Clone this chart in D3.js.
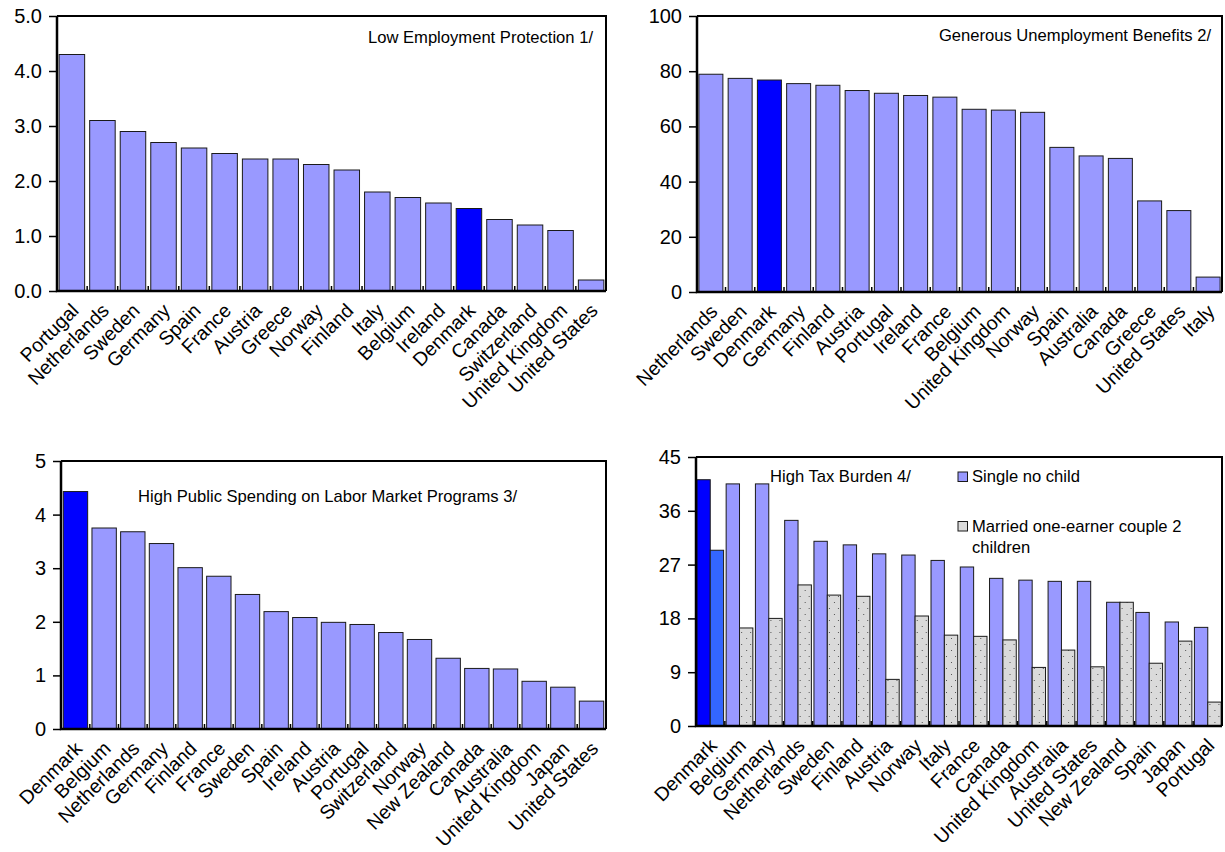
<!DOCTYPE html>
<html>
<head>
<meta charset="utf-8">
<script src="https://cdn.jsdelivr.net/npm/d3@7"></script>
<style>
  body { margin: 0; background: #fff; }
  svg { display: block; font-family: Arial, "Liberation Sans", sans-serif; }
</style>
</head>
<body>
<svg id="chart" width="1225" height="852"></svg>
<script>
// ---- Employment protection (index) ----
const empCountries = ["Portugal","Netherlands","Sweden","Germany","Spain","France","Austria","Greece","Norway","Finland","Italy","Belgium","Ireland","Denmark","Canada","Switzerland","United Kingdom","United States"];
const empValues = [4.3,3.1,2.9,2.7,2.6,2.5,2.4,2.4,2.3,2.2,1.8,1.7,1.6,1.5,1.3,1.2,1.1,0.2];
const empTicks = [0,1,2,3,4,5];

// ---- Unemployment benefit replacement rates ----
const benCountries = ["Netherlands","Sweden","Denmark","Germany","Finland","Austria","Portugal","Ireland","France","Belgium","United Kingdom","Norway","Spain","Australia","Canada","Greece","United States","Italy"];
const benValues = [78.9,77.4,76.8,75.5,74.9,73.0,72.0,71.2,70.6,66.2,65.9,65.1,52.4,49.3,48.4,33.0,29.5,5.4];
const benTicks = [0,20,40,60,80,100];

// ---- Public spending on labor market programs ----
const spendCountries = ["Denmark","Belgium","Netherlands","Germany","Finland","France","Sweden","Spain","Ireland","Austria","Portugal","Switzerland","Norway","New Zealand","Canada","Australia","United Kingdom","Japan","United States"];
const spendValues = [4.43,3.75,3.68,3.46,3.01,2.85,2.51,2.19,2.08,1.99,1.95,1.80,1.67,1.32,1.13,1.12,0.89,0.78,0.52];
const spendTicks = [0,1,2,3,4,5];

// ---- Tax burden ----
const taxCountries = ["Denmark","Belgium","Germany","Netherlands","Sweden","Finland","Austria","Norway","Italy","France","Canada","United Kingdom","Australia","United States","New Zealand","Spain","Japan","Portugal"];
const taxSingle = [41.2,40.5,40.5,34.4,30.9,30.3,28.8,28.6,27.7,26.6,24.7,24.4,24.2,24.2,20.7,19.0,17.4,16.5];
const taxMarried = [29.4,16.4,18.0,23.6,21.9,21.7,7.8,18.4,15.2,15.0,14.4,9.8,12.7,9.9,20.7,10.5,14.2,4.0];
const taxTicks = [0,9,18,27,36,45];
const taxSeries = ["Single no child","Married one-earner couple 2 children"];

const highlight = "Denmark";
const C_BAR = "#9999ff", C_HI = "#0000ff", C_HI2 = "#3366ff";

const svg = d3.select("#chart");
const defs = svg.append("defs");
const pat = defs.append("pattern").attr("id", "dots")
  .attr("patternUnits", "userSpaceOnUse").attr("width", 9).attr("height", 12);
pat.append("rect").attr("width", 9).attr("height", 12).attr("fill", "#dadada");
pat.append("rect").attr("x", 2).attr("y", 2).attr("width", 1).attr("height", 1).attr("fill", "#555");
pat.append("rect").attr("x", 6).attr("y", 8).attr("width", 1).attr("height", 1).attr("fill", "#555");

const TICK_FONT = 20, CAT_FONT = 19.5, TITLE_FONT = 16.6;

function frame(g, box, y, ticks, fmt, x, cats) {
  // y axis with outward ticks
  const ax = g.append("g").attr("transform", `translate(${box.left},0)`)
    .call(d3.axisLeft(y).tickValues(ticks).tickFormat(fmt).tickSize(8).tickPadding(7));
  ax.select(".domain").remove();
  ax.selectAll(".tick line").attr("stroke", "#000").attr("stroke-width", 1.5);
  ax.selectAll(".tick text").attr("font-size", TICK_FONT).attr("fill", "#000")
    .attr("font-family", "Arial, 'Liberation Sans', sans-serif");

  // top and right border
  g.append("path")
    .attr("d", `M${box.left},${box.top}H${box.right}V${box.bottom}`)
    .attr("fill", "none").attr("stroke", "#000").attr("stroke-width", 2);
  // left and bottom axis lines
  g.append("path")
    .attr("d", `M${box.left},${box.top}V${box.bottom}H${box.right}`)
    .attr("fill", "none").attr("stroke", "#000").attr("stroke-width", 2.5);

  // small inward tick marks between categories
  const gap = (x.step() - x.bandwidth()) / 2;
  g.append("g").selectAll("line").data(cats.slice(1)).join("line")
    .attr("x1", d => x(d) - gap).attr("x2", d => x(d) - gap)
    .attr("y1", box.bottom).attr("y2", box.bottom - 5)
    .attr("stroke", "#000").attr("stroke-width", 1.5);

  // rotated category labels
  g.append("g").selectAll("text").data(cats).join("text")
    .attr("transform", d => `translate(${x(d) + x.bandwidth() / 2 + 3},${box.bottom + 16}) rotate(-45)`)
    .attr("text-anchor", "end").attr("dy", "0.35em")
    .attr("font-size", CAT_FONT).attr("fill", "#000")
    .text(d => d);
}

function singlePanel(box, cats, vals, yMax, ticks, fmt, title) {
  const g = svg.append("g");
  const y = d3.scaleLinear().domain([0, yMax]).range([box.bottom, box.top]);
  const x = d3.scaleBand().domain(cats).range([box.left, box.right])
    .paddingInner(box.pi).paddingOuter(box.po);
  g.append("g").selectAll("rect").data(cats).join("rect")
    .attr("x", d => x(d)).attr("width", x.bandwidth())
    .attr("y", (d, i) => y(vals[i])).attr("height", (d, i) => box.bottom - y(vals[i]))
    .attr("fill", d => d === highlight ? C_HI : C_BAR)
    .attr("stroke", "#1a1a1a").attr("stroke-width", 1);
  frame(g, box, y, ticks, fmt, x, cats);
  g.append("text").attr("x", title.x).attr("y", title.y)
    .attr("text-anchor", title.anchor).attr("font-size", TITLE_FONT).attr("fill", "#000")
    .text(title.text);
}

singlePanel({left: 57, right: 606, top: 16, bottom: 291, pi: 0.165, po: 0.07},
  empCountries, empValues, 5, empTicks, d3.format(".1f"),
  {x: 593, y: 43, anchor: "end", text: "Low Employment Protection 1/"});

singlePanel({left: 697, right: 1222, top: 16, bottom: 292, pi: 0.18, po: 0.065},
  benCountries, benValues, 100, benTicks, d3.format("d"),
  {x: 1211, y: 41, anchor: "end", text: "Generous Unemployment Benefits 2/"});

singlePanel({left: 61, right: 606, top: 461, bottom: 729, pi: 0.15, po: 0.08},
  spendCountries, spendValues, 5, spendTicks, d3.format("d"),
  {x: 138, y: 502, anchor: "start", text: "High Public Spending on Labor Market Programs 3/"});

// ---- grouped tax panel ----
(function () {
  const box = {left: 696, right: 1222, top: 457, bottom: 726};
  const g = svg.append("g");
  const y = d3.scaleLinear().domain([0, 45]).range([box.bottom, box.top]);
  const x = d3.scaleBand().domain(taxCountries).range([box.left, box.right])
    .paddingInner(0.087).paddingOuter(0.03);
  const xs = d3.scaleBand().domain(taxSeries).range([0, x.bandwidth()]);
  const rows = taxCountries.map((c, i) => ({c, v: [taxSingle[i], taxMarried[i]]}));
  const grp = g.append("g").selectAll("g").data(rows).join("g")
    .attr("transform", d => `translate(${x(d.c)},0)`);
  grp.selectAll("rect").data(d => taxSeries.map((s, k) => ({c: d.c, s, k, v: d.v[k]}))).join("rect")
    .attr("x", d => xs(d.s)).attr("width", xs.bandwidth())
    .attr("y", d => y(d.v)).attr("height", d => box.bottom - y(d.v))
    .attr("fill", d => d.c === highlight ? (d.k === 0 ? C_HI : C_HI2) : (d.k === 0 ? C_BAR : "url(#dots)"))
    .attr("stroke", "#1a1a1a").attr("stroke-width", 1);
  frame(g, box, y, taxTicks, d3.format("d"), x, taxCountries);

  g.append("text").attr("x", 770).attr("y", 482).attr("font-size", TITLE_FONT).text("High Tax Burden 4/");

  // legend
  const lg = g.append("g");
  lg.append("rect").attr("x", 958).attr("y", 472).attr("width", 9.5).attr("height", 9.5)
    .attr("fill", C_BAR).attr("stroke", "#1a1a1a");
  lg.append("text").attr("x", 972).attr("y", 482).attr("font-size", TITLE_FONT).text(taxSeries[0]);
  lg.append("rect").attr("x", 958).attr("y", 521.5).attr("width", 9.5).attr("height", 9.5)
    .attr("fill", "#dadada").attr("stroke", "#1a1a1a");
  const t2 = lg.append("text").attr("font-size", TITLE_FONT);
  t2.append("tspan").attr("x", 972).attr("y", 532).text("Married one-earner couple 2");
  t2.append("tspan").attr("x", 972).attr("y", 553).text("children");
})();
</script>
</body>
</html>
